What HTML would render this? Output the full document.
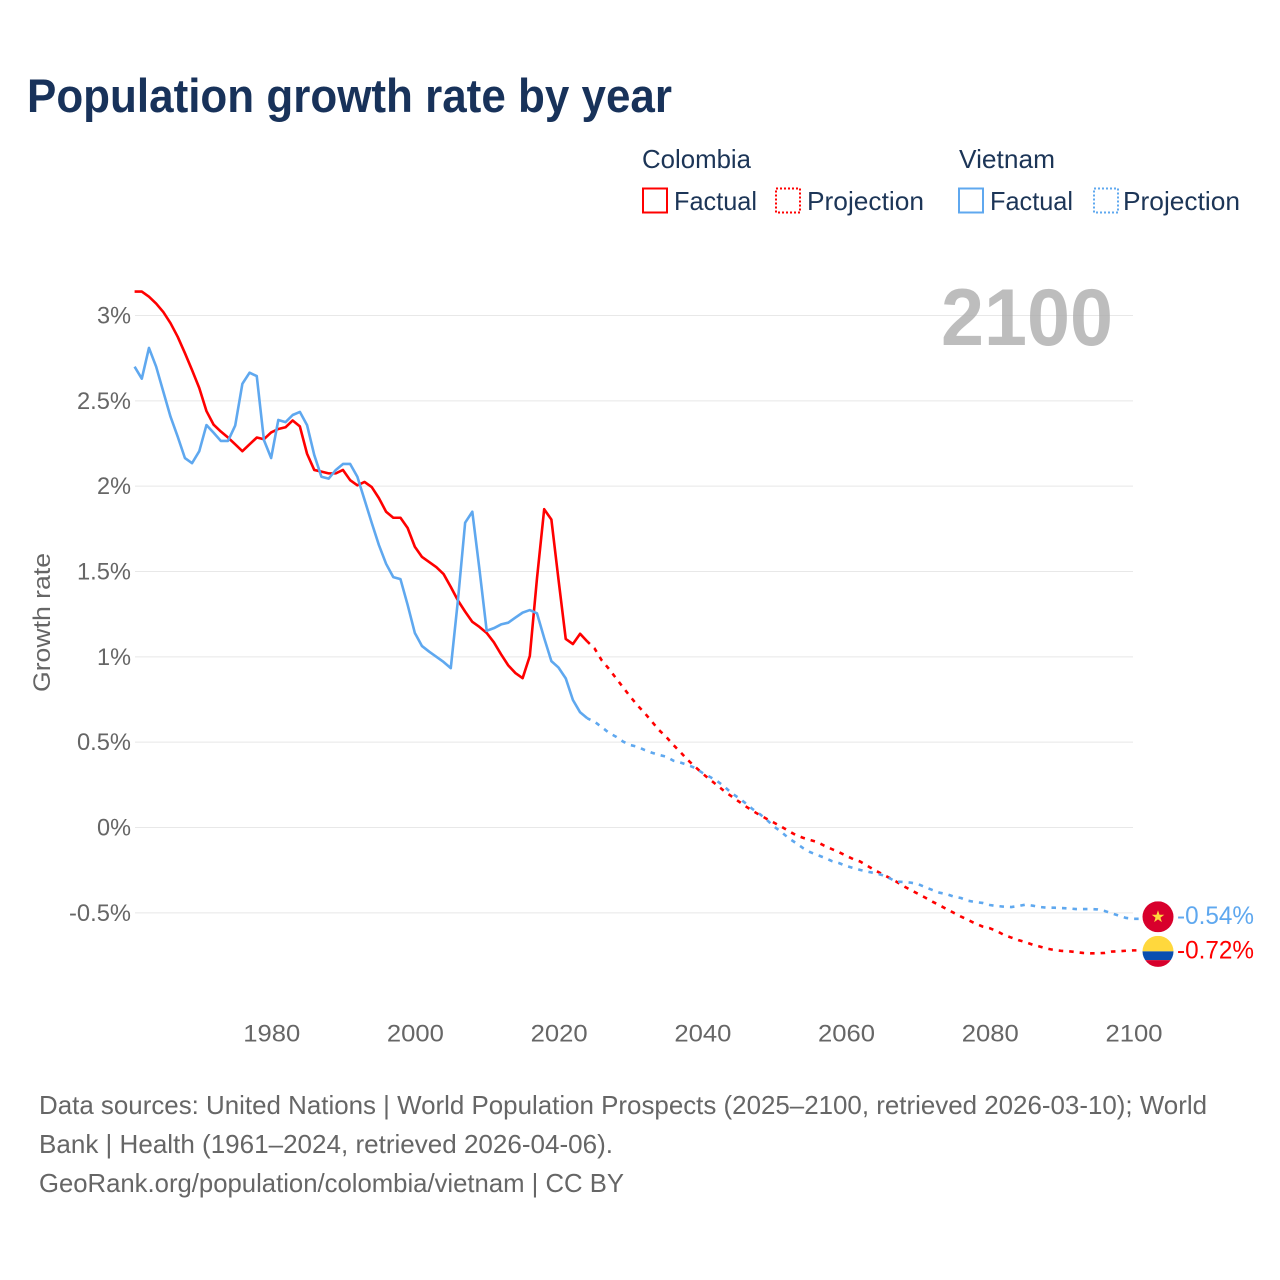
<!DOCTYPE html>
<html lang="en">
<head>
<meta charset="utf-8">
<title>Population growth rate by year</title>
<style>
html,body{margin:0;padding:0;background:#fff;}
svg{display:block;font-family:"Liberation Sans",sans-serif;}
</style>
</head>
<body>
<svg id="chart" xmlns="http://www.w3.org/2000/svg" width="1280" height="1280" viewBox="0 0 1280 1280">
  <rect x="0" y="0" width="1280" height="1280" fill="#fff"/>
  <text x="27" y="112" font-size="47" font-weight="700" fill="#18325a" textLength="645" lengthAdjust="spacingAndGlyphs">Population growth rate by year</text>

  <g font-size="26" fill="#1c3557">
    <text x="642" y="168" textLength="109" lengthAdjust="spacingAndGlyphs">Colombia</text>
    <text x="959" y="168" textLength="96" lengthAdjust="spacingAndGlyphs">Vietnam</text>
    <g>
      <rect x="643" y="188.5" width="24" height="24" fill="none" stroke="#ff0000" stroke-width="2"/>
      <text x="674" y="210" textLength="83" lengthAdjust="spacingAndGlyphs">Factual</text>
    </g>
    <g>
      <rect x="776" y="188.5" width="24" height="24" fill="none" stroke="#ff0000" stroke-width="2" stroke-dasharray="2 2"/>
      <text x="807" y="210" textLength="117" lengthAdjust="spacingAndGlyphs">Projection</text>
    </g>
    <g>
      <rect x="959" y="188.5" width="24" height="24" fill="none" stroke="#5fa8ef" stroke-width="2"/>
      <text x="990" y="210" textLength="83" lengthAdjust="spacingAndGlyphs">Factual</text>
    </g>
    <g>
      <rect x="1094" y="188.5" width="24" height="24" fill="none" stroke="#5fa8ef" stroke-width="2" stroke-dasharray="2 2"/>
      <text x="1123" y="210" textLength="117" lengthAdjust="spacingAndGlyphs">Projection</text>
    </g>
  </g>

  <text transform="translate(50,622.5) rotate(-90)" text-anchor="middle" font-size="24" fill="#666" textLength="139" lengthAdjust="spacingAndGlyphs">Growth rate</text>

  <g id="grid"></g>
  <g id="yticks"></g>
  <g id="xticks"></g>

  <text x="941" y="345" font-size="81" font-weight="700" fill="#aaa" fill-opacity="0.78" textLength="172" lengthAdjust="spacingAndGlyphs">2100</text>

  <g id="series"></g>
  <g id="ends"></g>

  <g font-size="26" fill="#666">
    <text x="39" y="1114" textLength="1168" lengthAdjust="spacingAndGlyphs">Data sources: United Nations | World Population Prospects (2025–2100, retrieved 2026-03-10); World</text>
    <text x="39" y="1153" textLength="574" lengthAdjust="spacingAndGlyphs">Bank | Health (1961–2024, retrieved 2026-04-06).</text>
    <text x="39" y="1192" textLength="585" lengthAdjust="spacingAndGlyphs">GeoRank.org/population/colombia/vietnam | CC BY</text>
  </g>
</svg>
<script>
const factualStartYear = 1961;
const projectionStartYear = 2024;

const yTickValues = [3, 2.5, 2, 1.5, 1, 0.5, 0, -0.5];
const yTickLabels = ['3%', '2.5%', '2%', '1.5%', '1%', '0.5%', '0%', '-0.5%'];
const xTickValues = [1980, 2000, 2020, 2040, 2060, 2080, 2100];
const xTickLabels = ['1980', '2000', '2020', '2040', '2060', '2080', '2100'];

const colombiaFactual = [
  3.14, 3.14, 3.11, 3.07, 3.02, 2.955, 2.875, 2.78, 2.68, 2.575,
  2.44, 2.36, 2.32, 2.285, 2.245, 2.205, 2.245, 2.285, 2.275, 2.315,
  2.335, 2.345, 2.385, 2.35, 2.19, 2.095, 2.085, 2.075, 2.075, 2.095,
  2.035, 2.005, 2.025, 1.995, 1.93, 1.85, 1.815, 1.815, 1.755, 1.645,
  1.585, 1.555, 1.525, 1.485, 1.41, 1.33, 1.265, 1.205, 1.175, 1.14,
  1.085, 1.015, 0.95, 0.905, 0.875, 1.005, 1.46, 1.865, 1.805, 1.45,
  1.105, 1.075, 1.135, 1.09
];
const colombiaProjection = [
  1.09, 1.05, 0.98, 0.93, 0.875, 0.82, 0.766, 0.715, 0.67, 0.62, 0.57,
  0.53, 0.483, 0.44, 0.395, 0.356, 0.318, 0.283, 0.25, 0.215, 0.185,
  0.155, 0.125, 0.098, 0.073, 0.05, 0.028, 0.005, -0.02, -0.044, -0.06,
  -0.073, -0.085, -0.107, -0.126, -0.144, -0.165, -0.185, -0.2, -0.225, -0.25,
  -0.272, -0.294, -0.317, -0.343, -0.366, -0.388, -0.41, -0.434, -0.455, -0.478,
  -0.5, -0.522, -0.542, -0.563, -0.58, -0.59, -0.607, -0.63, -0.645, -0.66,
  -0.672, -0.687, -0.698, -0.71, -0.718, -0.723, -0.725, -0.73, -0.735, -0.737,
  -0.737, -0.735, -0.727, -0.725, -0.722, -0.72
];
const vietnamFactual = [
  2.70, 2.63, 2.81, 2.70, 2.553, 2.407, 2.29, 2.165, 2.135, 2.205,
  2.358, 2.313, 2.265, 2.265, 2.355, 2.6, 2.665, 2.645, 2.27, 2.165,
  2.388, 2.375, 2.417, 2.435, 2.358, 2.183, 2.055, 2.044, 2.095, 2.13,
  2.13, 2.055, 1.92, 1.785, 1.655, 1.545, 1.467, 1.455, 1.304, 1.14,
  1.063, 1.03, 1.0, 0.97, 0.934, 1.333, 1.786, 1.85, 1.51, 1.153,
  1.168, 1.19, 1.2, 1.23, 1.259, 1.274, 1.255, 1.11, 0.975, 0.937,
  0.874, 0.747, 0.675, 0.64
];
const vietnamProjection = [
  0.64, 0.62, 0.589, 0.555, 0.532, 0.503, 0.483, 0.473, 0.454, 0.438, 0.425,
  0.415, 0.391, 0.38, 0.366, 0.349, 0.321, 0.298, 0.274, 0.243, 0.204,
  0.175, 0.143, 0.108, 0.079, 0.044, 0.005, -0.026, -0.062, -0.09, -0.12,
  -0.144, -0.161, -0.177, -0.196, -0.208, -0.225, -0.237, -0.249, -0.259, -0.267,
  -0.278, -0.296, -0.317, -0.319, -0.323, -0.331, -0.349, -0.366, -0.382, -0.39,
  -0.405, -0.413, -0.429, -0.437, -0.442, -0.454, -0.46, -0.464, -0.466, -0.46,
  -0.452, -0.458, -0.466, -0.47, -0.47, -0.472, -0.474, -0.478, -0.478, -0.478,
  -0.48, -0.489, -0.503, -0.517, -0.53, -0.535
];
const colombiaEndLabel = '-0.72%';
const vietnamEndLabel = '-0.54%';

const NS = 'http://www.w3.org/2000/svg';
const RED = '#ff0000';
const BLUE = '#5fa8ef';
function xScale(year) { return 134.6 + (year - 1961) * (1133.4 - 134.6) / (2100 - 1961); }
function yScale(value) { return 827.5 - value * (827.5 - 315.5) / 3; }
function make(tag, parent, attrs, text) {
  const el = document.createElementNS(NS, tag);
  for (const k in attrs) el.setAttribute(k, attrs[k]);
  if (text !== undefined) el.textContent = text;
  parent.appendChild(el);
  return el;
}
function pointsFor(startYear, values) {
  return values.map((v, i) => xScale(startYear + i).toFixed(2) + ',' + yScale(v).toFixed(2)).join(' ');
}

const grid = document.getElementById('grid');
const yticks = document.getElementById('yticks');
const xticks = document.getElementById('xticks');
const series = document.getElementById('series');
const ends = document.getElementById('ends');

yTickValues.forEach((v, i) => {
  const line = make('line', grid, {x1: 135, x2: 1133, y1: yScale(v), y2: yScale(v), stroke: '#e8e8e8', 'stroke-width': 1});
  
  
  const label = yTickLabels[i];
  const w = label.length === 2 ? 34 : (label.length === 4 ? 54 : 62);
  const t = make('text', yticks, {x: 131 - w, y: yScale(v) + 8, 'font-size': 24, fill: '#666', textLength: w, lengthAdjust: 'spacingAndGlyphs'}, label);
  
  
});

xTickValues.forEach((v, i) => {
  const t = make('text', xticks, {x: xScale(v) - 27.9, y: 1041.5, 'font-size': 24, fill: '#666', textLength: 57, lengthAdjust: 'spacingAndGlyphs'}, xTickLabels[i]);
  
  
});

const lineBase = {fill: 'none', 'stroke-width': 2.6, 'stroke-linejoin': 'round'};
function drawProjection(values, color) {
  const pts = pointsFor(projectionStartYear, values);
  const lastY = yScale(values[values.length - 1]);
  const attrs = Object.assign({}, lineBase, {points: pts + ' 1142,' + lastY.toFixed(2), stroke: color, 'stroke-dasharray': '4.5 6', 'stroke-dashoffset': 1});
  return make('polyline', series, attrs);
}
function drawFactual(values, color) {
  const attrs = Object.assign({}, lineBase, {points: pointsFor(factualStartYear, values), stroke: color});
  return make('polyline', series, attrs);
}

const colombiaProjectionLine = drawProjection(colombiaProjection, RED);


const vietnamProjectionLine = drawProjection(vietnamProjection, BLUE);


const colombiaFactualLine = drawFactual(colombiaFactual, RED);


const vietnamFactualLine = drawFactual(vietnamFactual, BLUE);



/* end markers */
const flagX = 1158;
const flagR = 15.5;
const defs = make('defs', ends, {});
const clipV = make('clipPath', defs, {id: 'clip-vn'});
const clipC = make('clipPath', defs, {id: 'clip-co'});

const vnY = yScale(vietnamProjection[vietnamProjection.length - 1]) - 2;
make('circle', clipV, {cx: flagX, cy: vnY, r: flagR});
const vnFlag = make('g', ends, {'clip-path': 'url(#clip-vn)'});


make('rect', vnFlag, {x: flagX - flagR, y: vnY - flagR, width: flagR * 2, height: flagR * 2, fill: '#d8002c'});
const star = [];
for (let i = 0; i < 10; i++) {
  const r = i % 2 ? 2.6 : 6.6;
  const a = -Math.PI / 2 + i * Math.PI / 5;
  star.push((flagX + r * Math.cos(a)).toFixed(2) + ',' + (vnY + r * Math.sin(a)).toFixed(2));
}
make('polygon', vnFlag, {points: star.join(' '), fill: '#ffd83d'});

const coY = yScale(colombiaProjection[colombiaProjection.length - 1]) + 1;
make('circle', clipC, {cx: flagX, cy: coY, r: flagR});
const coFlag = make('g', ends, {'clip-path': 'url(#clip-co)'});


make('rect', coFlag, {x: flagX - flagR, y: coY - flagR, width: flagR * 2, height: flagR, fill: '#ffd83d'});
make('rect', coFlag, {x: flagX - flagR, y: coY, width: flagR * 2, height: flagR / 2 + 1, fill: '#0a4fb0'});
make('rect', coFlag, {x: flagX - flagR, y: coY + flagR / 2 + 1, width: flagR * 2, height: flagR / 2, fill: '#d8002c'});

const vnLabel = make('text', ends, {x: 1177, y: vnY + 7, 'font-size': 25, fill: BLUE, textLength: 77, lengthAdjust: 'spacingAndGlyphs'}, vietnamEndLabel);


const coLabel = make('text', ends, {x: 1177, y: coY + 7, 'font-size': 25, fill: RED, textLength: 77, lengthAdjust: 'spacingAndGlyphs'}, colombiaEndLabel);


</script>
</body>
</html>
